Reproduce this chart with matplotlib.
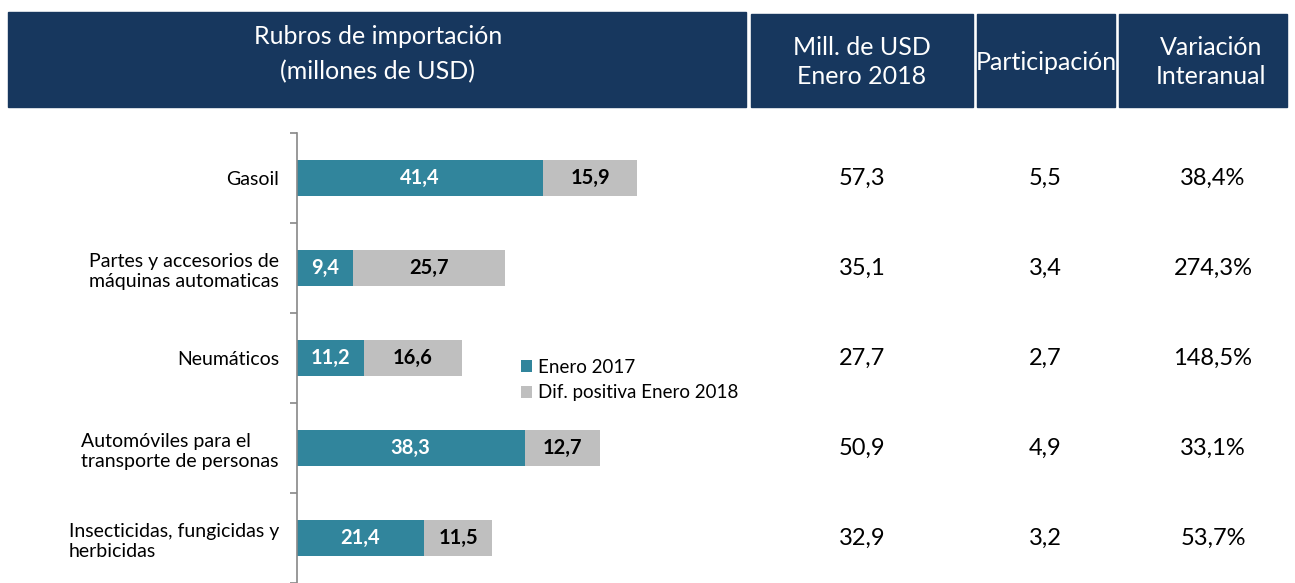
import numpy as np
import matplotlib
matplotlib.use("Agg")
import matplotlib.pyplot as plt
from matplotlib.patches import Rectangle
from matplotlib.transforms import blended_transform_factory

plt.rcParams['font.family'] = ['Lato', 'DejaVu Sans']

categories = ["Gasoil",
              "Partes y accesorios de\nmáquinas automaticas",
              "Neumáticos",
              "Automóviles para el\ntransporte de personas",
              "Insecticidas, fungicidas y\nherbicidas"]
enero_2017 = [41.4, 9.4, 11.2, 38.3, 21.4]
dif_2018 = [15.9, 25.7, 16.6, 12.7, 11.5]
mill_2018 = ["57,3", "35,1", "27,7", "50,9", "32,9"]
participacion = ["5,5", "3,4", "2,7", "4,9", "3,2"]
variacion = ["38,4%", "274,3%", "148,5%", "33,1%", "53,7%"]

headers = ["Rubros de importación\n(millones de USD)", "Mill. de USD\nEnero 2018",
           "Participación", "Variación\nInteranual"]

teal = "#31859C"
grey = "#BFBFBF"
navy = "#17375E"

W, H = 1295, 583
fig = plt.figure(figsize=(W / 100, H / 100), dpi=100)

def fx(px):
    return px / W

def fy(py):
    return 1 - py / H

# header boxes (pixel layout): x0, top, x1, text centre x, text centre y, line spacing
boxes = [(8, 12, 746, 378, 54, 1.6), (751, 14, 973, 862, 62, 1.3),
         (977, 14, 1115, 1046, 62, 1.3), (1119, 14, 1287, 1211, 62, 1.3)]
for (x0, y0, x1, cx, cy, ls), txt in zip(boxes, headers):
    fig.patches.append(Rectangle((fx(x0), fy(107)), fx(x1 - x0), (107 - y0) / H,
                                 transform=fig.transFigure, color=navy, zorder=0))
    fig.text(fx(cx), fy(cy), txt, color="white", ha="center", va="center",
             fontsize=18, linespacing=ls)

ax = fig.add_axes([fx(297), 0, fx(760 - 297), (H - 133) / H])
y = np.arange(len(categories))
ax.barh(y, enero_2017, height=0.39, color=teal, label="Enero 2017")
ax.barh(y, dif_2018, left=enero_2017, height=0.39, color=grey,
        label="Dif. positiva Enero 2018")

for i in range(len(categories)):
    ax.text(enero_2017[i] / 2, y[i], f"{enero_2017[i]:.1f}".replace(".", ","),
            color="white", fontweight="bold", ha="center", va="center", fontsize=14.5)
    ax.text(enero_2017[i] + dif_2018[i] / 2, y[i], f"{dif_2018[i]:.1f}".replace(".", ","),
            color="black", fontweight="bold", ha="center", va="center", fontsize=14.5)

ax.set_ylim(len(categories) - 0.5, -0.5)
ax.set_xlim(0, (760 - 297) / 5.94)
ax.set_yticks(y)
ax.set_yticklabels(categories, fontsize=14, multialignment="left", linespacing=1.25)
ax.set_yticks(np.arange(-0.5, len(categories), 1.0), minor=True)
ax.tick_params(axis="y", which="major", length=0, pad=13)
ax.tick_params(axis="y", which="minor", length=5, color="#888888", width=1.2)
ax.set_xticks([])
for s in ["top", "right", "bottom"]:
    ax.spines[s].set_visible(False)
ax.spines["left"].set_color("#888888")
ax.spines["left"].set_linewidth(1.2)

# table columns
tr = blended_transform_factory(fig.transFigure, ax.transData)
for col_x, vals in [(862, mill_2018), (1045, participacion), (1213, variacion)]:
    for i, v in enumerate(vals):
        ax.text(fx(col_x), y[i], v, transform=tr, ha="center", va="center",
                fontsize=17, clip_on=False)

ax.legend(loc="upper left", bbox_to_anchor=(fx(504), fy(342)),
          bbox_transform=fig.transFigure, frameon=False, fontsize=13.5,
          handlelength=0.6, handleheight=0.6, handletextpad=0.3, labelspacing=0.45)

fig.savefig("out.png", dpi=100)
